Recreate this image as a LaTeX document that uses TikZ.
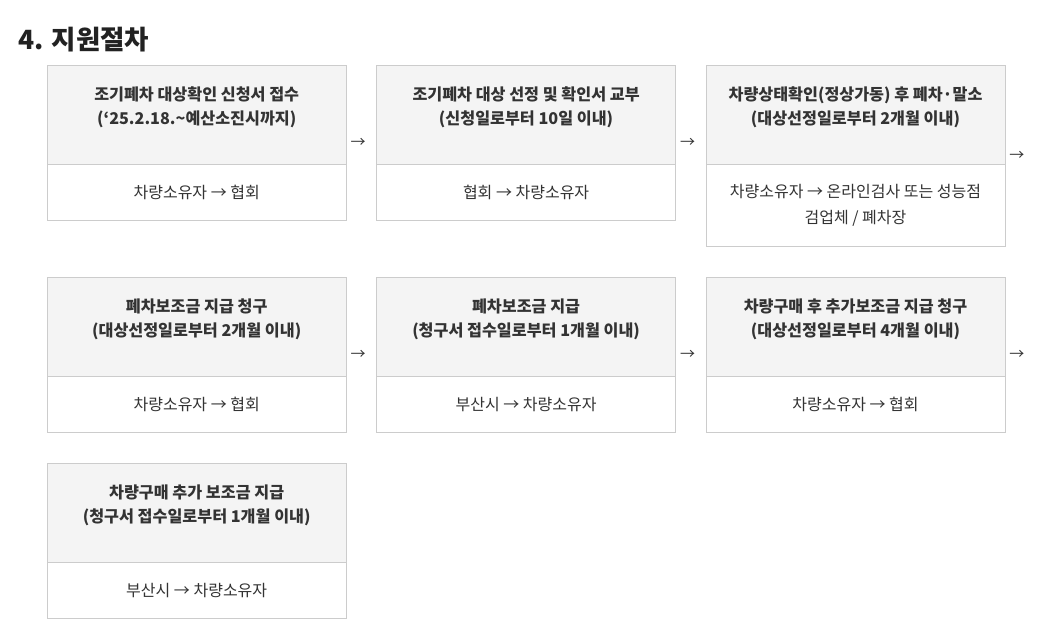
\documentclass[tikz,border=0pt]{standalone}
\usepackage{fontspec}
\setmainfont{Noto Sans CJK KR}
\usetikzlibrary{positioning}
\usetikzlibrary{calc}
\definecolor{boxline}{HTML}{CCCCCC}
\definecolor{headfill}{HTML}{F4F4F4}
\definecolor{txt}{HTML}{333333}
\definecolor{ttlcol}{HTML}{222222}

\begin{document}
\begin{tikzpicture}[x=1pt,y=-1pt,
  head/.style={draw=boxline, fill=headfill, minimum width=299pt, minimum height=99pt, inner sep=0pt, anchor=north west},
  headtxt/.style={anchor=north, align=center, inner sep=0pt, text=txt, font=\fontsize{16.2}{24}\selectfont\bfseries},
  body/.style={draw=boxline, fill=white, minimum width=299pt, minimum height=56pt, inner sep=0pt, align=center, text=txt, font=\fontsize{16}{26}\selectfont},
  arr/.style={anchor=west, inner sep=0pt, text=txt, font=\fontsize{15}{15}\selectfont}]

\useasboundingbox (0,0) rectangle (1053,632);

\node[anchor=west, inner sep=0pt, text=ttlcol, font=\fontsize{26.5}{26.5}\selectfont\bfseries] (ttl) at (18,40) {4. 지원절차};

% row 1
\node[head] (s1h) at (47,65) {};
\node[body, below=0pt of s1h] (s1b) {차량소유자 → 협회};
\node[headtxt] (s1t) at ([yshift=-22pt]s1h.north) {조기폐차 대상확인 신청서 접수\\(‘25.2.18.\textasciitilde 예산소진시까지)};

\node[head, right=30pt of s1h.north east, anchor=north west] (s2h) {};
\node[body, below=0pt of s2h] (s2b) {협회 → 차량소유자};
\node[headtxt] (s2t) at ([yshift=-22pt]s2h.north) {조기폐차 대상 선정 및 확인서 교부\\(신청일로부터 10일 이내)};

\node[head, right=30pt of s2h.north east, anchor=north west] (s3h) {};
\node[body, below=0pt of s3h, minimum height=82pt] (s3b) {차량소유자 → 온라인검사 또는 성능점\\검업체 / 폐차장};
\node[headtxt] (s3t) at ([yshift=-22pt]s3h.north) {차량상태확인(정상가동) 후 폐차·말소\\(대상선정일로부터 2개월 이내)};

% row 2
\node[head] (s4h) at (47,277) {};
\node[body, below=0pt of s4h] (s4b) {차량소유자 → 협회};
\node[headtxt] (s4t) at ([yshift=-22pt]s4h.north) {폐차보조금 지급 청구\\(대상선정일로부터 2개월 이내)};

\node[head, right=30pt of s4h.north east, anchor=north west] (s5h) {};
\node[body, below=0pt of s5h] (s5b) {부산시 → 차량소유자};
\node[headtxt] (s5t) at ([yshift=-22pt]s5h.north) {폐차보조금 지급\\(청구서 접수일로부터 1개월 이내)};

\node[head, right=30pt of s5h.north east, anchor=north west] (s6h) {};
\node[body, below=0pt of s6h] (s6b) {차량소유자 → 협회};
\node[headtxt] (s6t) at ([yshift=-22pt]s6h.north) {차량구매 후 추가보조금 지급 청구\\(대상선정일로부터 4개월 이내)};

% row 3
\node[head] (s7h) at (47,463) {};
\node[body, below=0pt of s7h] (s7b) {부산시 → 차량소유자};
\node[headtxt] (s7t) at ([yshift=-22pt]s7h.north) {차량구매 추가 보조금 지급\\(청구서 접수일로부터 1개월 이내)};

% arrows
\foreach \s in {1,...,6}{
  \node[arr] (a\s) at ([xshift=4pt]$(s\s h.north east)!0.5!(s\s b.south east)$) {→};
}

\end{tikzpicture}
\end{document}
